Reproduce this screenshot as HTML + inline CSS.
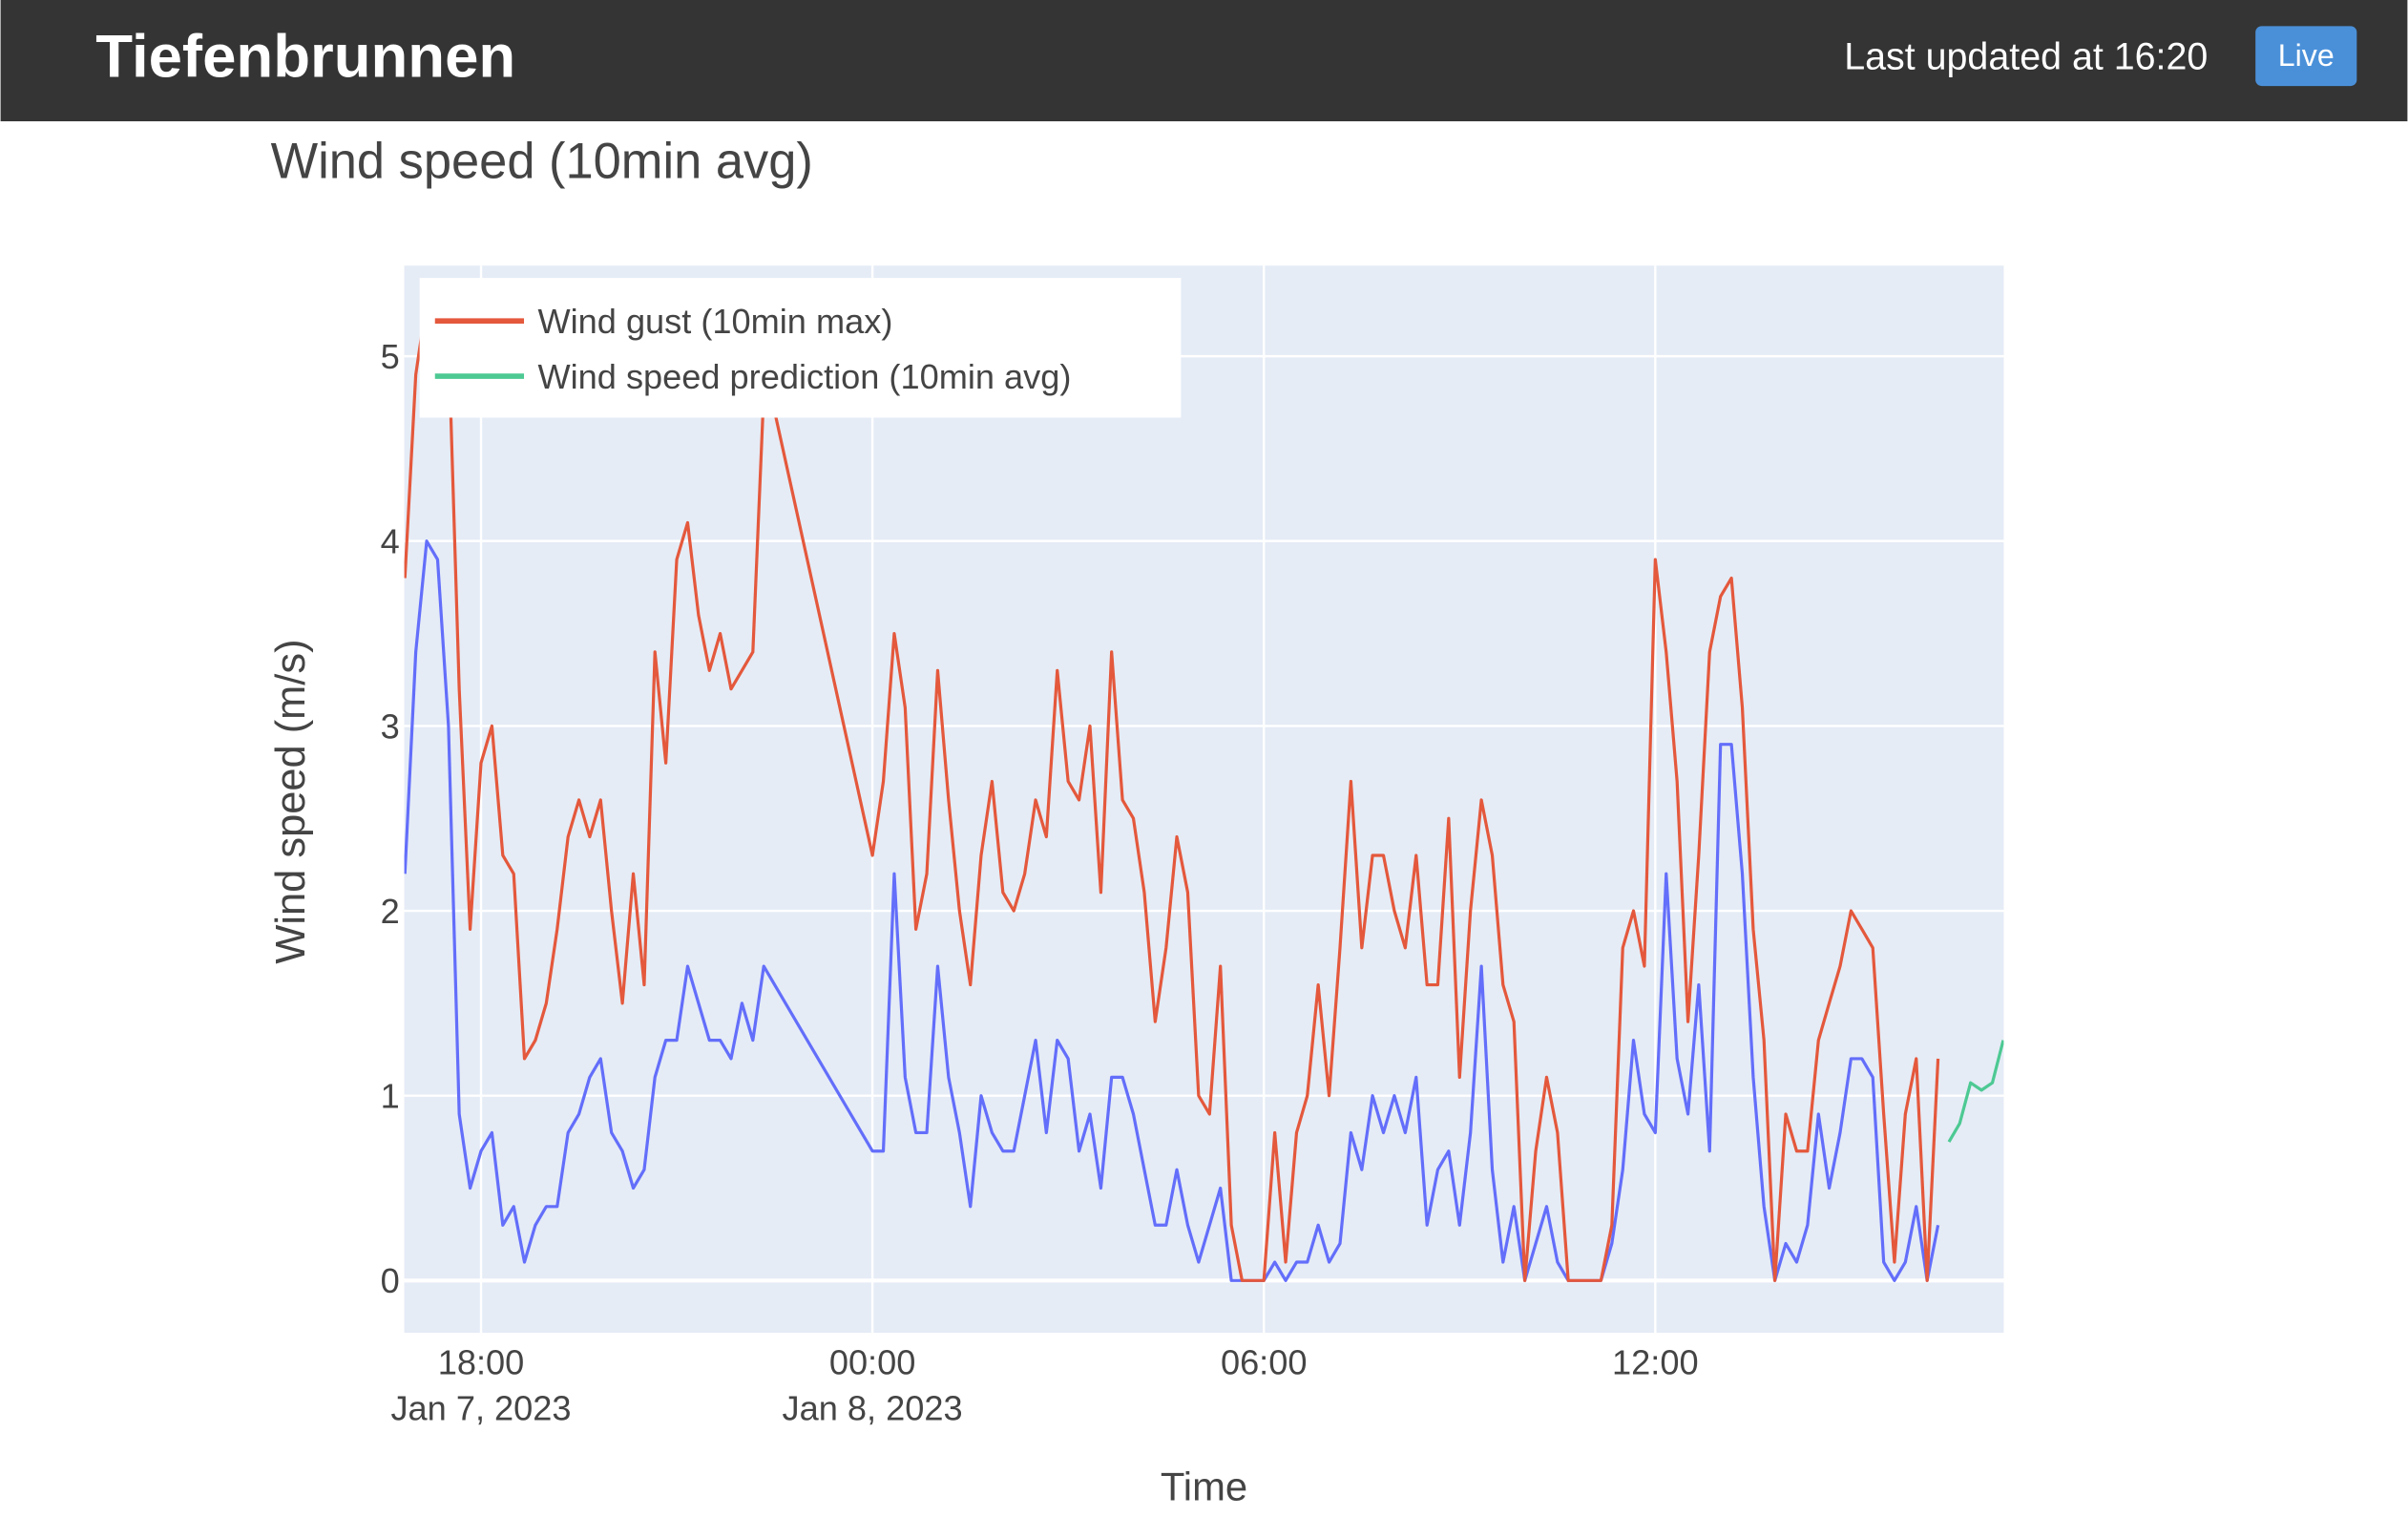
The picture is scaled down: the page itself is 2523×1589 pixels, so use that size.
<!DOCTYPE html>
<html><head><meta charset="utf-8"><style>
html,body{margin:0;padding:0;background:#fff;}
svg{display:block;font-family:"Liberation Sans",sans-serif;}
</style></head><body>
<svg width="2523" height="1589" viewBox="0 0 1568 988">
<defs><clipPath id="pc"><rect x="263" y="173" width="1042" height="695"/></clipPath></defs>
<rect x="0" y="0" width="1568" height="79" fill="#343434"/>
<text x="62" y="50" font-size="39.5" font-weight="bold" fill="#fff">Tiefenbrunnen</text>
<text x="1438" y="45" font-size="24.5" fill="#fff" text-anchor="end">Last updated at 16:20</text>
<g><rect x="1469" y="17" width="66" height="39" rx="4" fill="#4a90d9"/><text x="1502" y="43" font-size="20" fill="#fff" text-anchor="middle">Live</text></g>
<text x="176" y="116" font-size="32.6" fill="#444">Wind speed (10min avg)</text>
<rect x="263" y="173" width="1042" height="695" fill="#e5ecf6"/>
<g id="grid"></g>
<g id="series" clip-path="url(#pc)"></g>
<g id="ticks"></g>
<g>
<rect x="273" y="181" width="496" height="91" fill="#fff"/>
<line x1="283" y1="209" x2="341" y2="209" stroke="#e4583c" stroke-width="3.5"/>
<text x="350" y="217" font-size="22.5" fill="#444">Wind gust (10min max)</text>
<line x1="283" y1="245" x2="341" y2="245" stroke="#4dc993" stroke-width="3.5"/>
<text x="350" y="253" font-size="22.5" fill="#444">Wind speed prediction (10min avg)</text>
</g>
<text x="0" y="0" font-size="27" fill="#444" text-anchor="middle" transform="translate(198,522) rotate(-90)">Wind speed (m/s)</text>
<text x="784" y="977" font-size="26" fill="#444" text-anchor="middle">Time</text>
</svg>
<script>
// times in minutes since Jan 7 00:00
const startMin = 1010;
const gustValues = [3.8,4.9,5.3,5.3,5.1,3.2,1.9,2.8,3.0,2.3,2.2,1.2,1.3,1.5,1.9,2.4,2.6,2.4,2.6,2.0,1.5,2.2,1.6,3.4,2.8,3.9,4.1,3.6,3.3,3.5,3.2,3.3,3.4,4.8,4.7,
2.3,2.7,3.5,3.1,1.9,2.2,3.3,2.6,2.0,1.6,2.3,2.7,2.1,2.0,2.2,2.6,2.4,3.3,2.7,2.6,3.0,2.1,3.4,2.6,2.5,2.1,1.4,1.8,2.4,2.1,1.0,0.9,1.7,0.3,0,0,0,0.8,0.1,0.8,1.0,1.6,1.0,1.8,2.7,1.8,2.3,2.3,2.0,1.8,2.3,1.6,1.6,2.5,1.1,2.0,2.6,2.3,1.6,1.4,0,0.7,1.1,0.8,0,0,0,0,0.3,1.8,2.0,1.7,3.9,3.4,2.7,1.4,2.3,3.4,3.7,3.8,3.1,1.9,1.3,0,0.9,0.7,0.7,1.3,1.5,1.7,2.0,1.9,1.8,0.9,0.1,0.9,1.2,0,1.2];
const speedValues = [2.2,3.4,4.0,3.9,3.0,0.9,0.5,0.7,0.8,0.3,0.4,0.1,0.3,0.4,0.4,0.8,0.9,1.1,1.2,0.8,0.7,0.5,0.6,1.1,1.3,1.3,1.7,1.5,1.3,1.3,1.2,1.5,1.3,1.7,1.6,
0.7,0.7,2.2,1.1,0.8,0.8,1.7,1.1,0.8,0.4,1.0,0.8,0.7,0.7,1.0,1.3,0.8,1.3,1.2,0.7,0.9,0.5,1.1,1.1,0.9,0.6,0.3,0.3,0.6,0.3,0.1,0.3,0.5,0,0,0,0,0.1,0,0.1,0.1,0.3,0.1,0.2,0.8,0.6,1.0,0.8,1.0,0.8,1.1,0.3,0.6,0.7,0.3,0.8,1.7,0.6,0.1,0.4,0,0.2,0.4,0.1,0,0,0,0,0.2,0.6,1.3,0.9,0.8,2.2,1.2,0.9,1.6,0.7,2.9,2.9,2.2,1.1,0.4,0,0.2,0.1,0.3,0.9,0.5,0.8,1.2,1.2,1.1,0.1,0,0.1,0.4,0,0.3];
const predValues = [0.75,0.85,1.07,1.03,1.07,1.3];
const yTicks = [0,1,2,3,4,5];
const xTickMins = [1080,1440,1800,2160];
const xTickLabels = ["18:00","00:00","06:00","12:00"];
const xTickDates = ["Jan 7, 2023","Jan 8, 2023","",""];
// observed series: indices 0-34, then 43-141 (10-min steps); prediction 142-147
const obsIdx = [];
for (let k=0;k<=34;k++) obsIdx.push(k);
for (let k=43;k<=141;k++) obsIdx.push(k);
const predIdx = [142,143,144,145,146,147];

const NS="http://www.w3.org/2000/svg";
const X = m => 313 + (m-1080)*42.5/60;
const Y = v => 834 - v*120.4;
function mk(tag,attrs,parent){const e=document.createElementNS(NS,tag);for(const k in attrs)e.setAttribute(k,attrs[k]);parent.appendChild(e);return e;}
const grid=document.getElementById('grid'), ticks=document.getElementById('ticks'), series=document.getElementById('series');
yTicks.forEach(v=>{
  const l=mk('line',{x1:263,x2:1305,y1:Y(v),y2:Y(v),stroke:'#fff','stroke-width':v===0?2.5:1.5},grid);
  
  
  const t=mk('text',{x:260,y:Y(v)+8,'font-size':22.5,fill:'#444','text-anchor':'end'},ticks);
  t.textContent=v;
  
  
});
xTickMins.forEach((m,i)=>{
  const l=mk('line',{x1:X(m),x2:X(m),y1:173,y2:868,stroke:'#fff','stroke-width':1.5},grid);
  
  
  const t=mk('text',{x:X(m),y:895,'font-size':22.5,fill:'#444','text-anchor':'middle'},ticks);
  t.textContent=xTickLabels[i];
  
  
  if(xTickDates[i]){const d=mk('text',{x:X(m),y:925,'font-size':22.5,fill:'#444','text-anchor':'middle'},ticks);
  d.textContent=xTickDates[i];
  
  }
});
function line(idx,vals,color,name){
  const pts=idx.map((k,i)=>X(startMin+10*k).toFixed(1)+','+Y(vals[i]).toFixed(1)).join(' ');
  const p=mk('polyline',{points:pts,fill:'none',stroke:color,'stroke-width':2,'stroke-linejoin':'round'},series);
  
  
}
line(obsIdx,speedValues,'#636efa','wind-speed-line');
line(obsIdx,gustValues,'#e4583c','wind-gust-line');
line(predIdx,predValues,'#4dc993','prediction-line');
</script>
</body></html>
